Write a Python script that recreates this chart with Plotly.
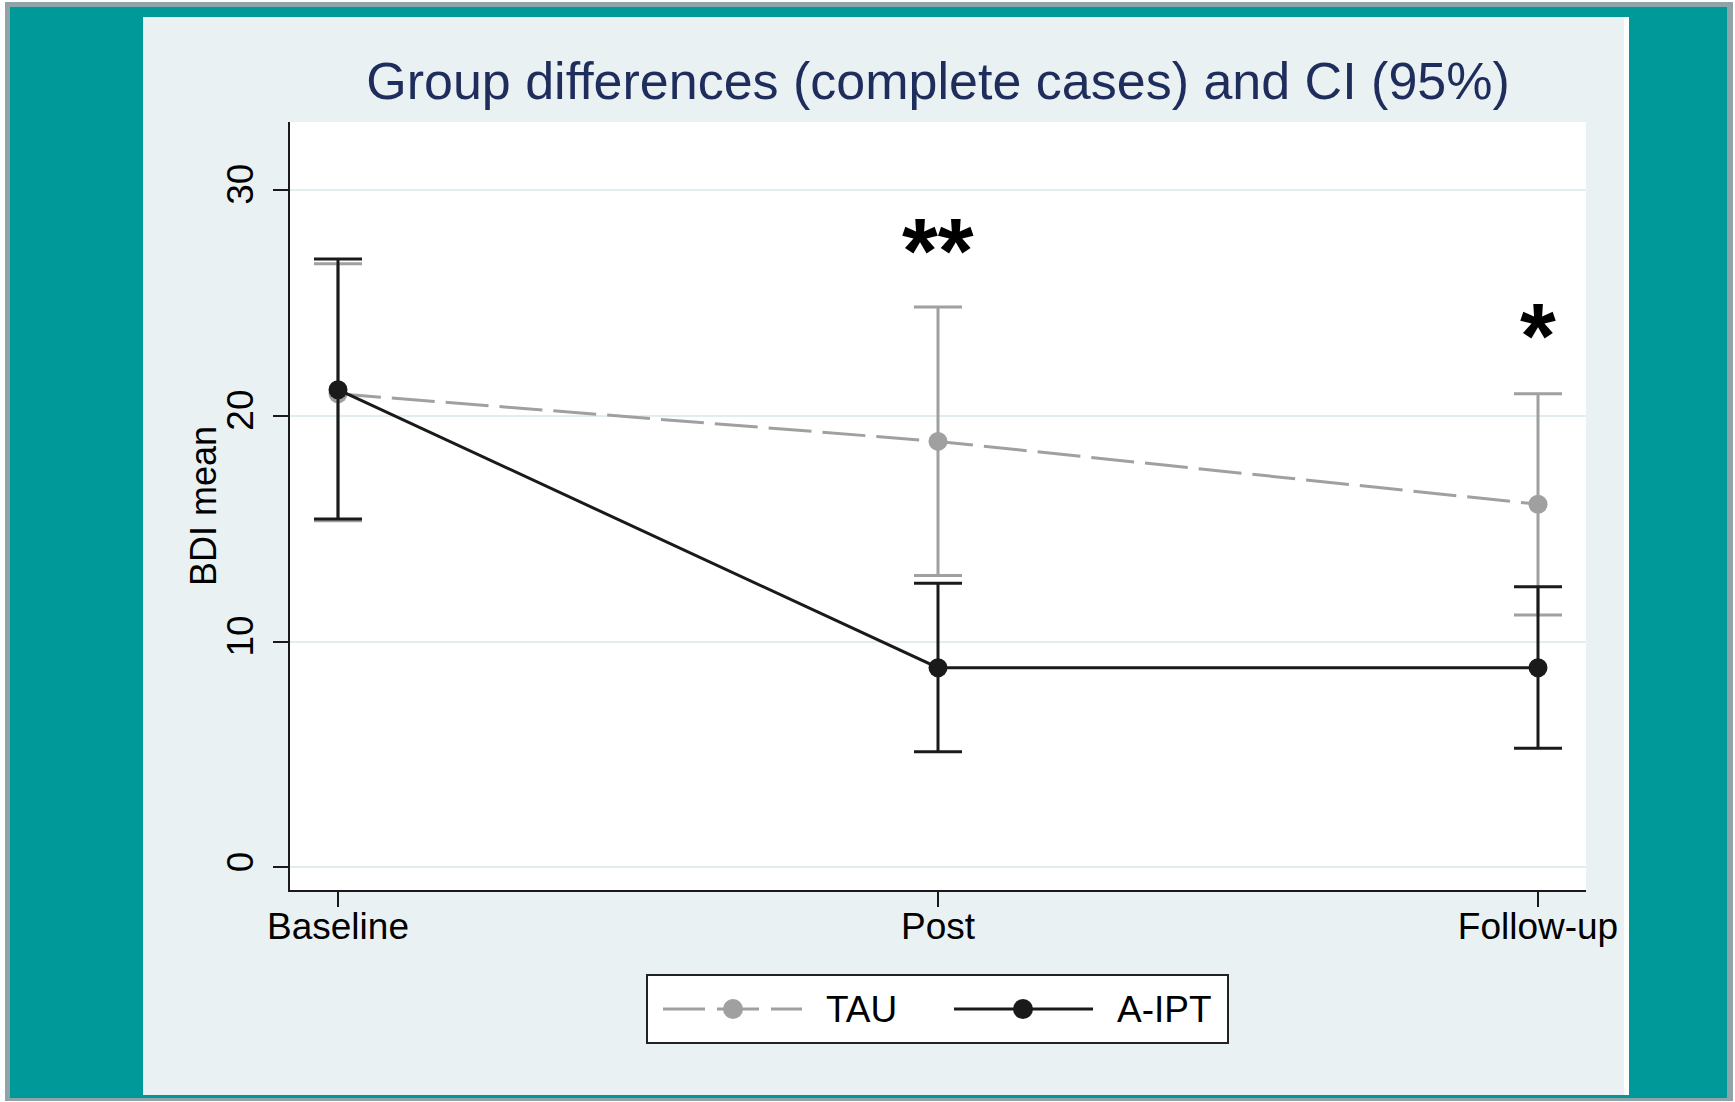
import plotly.graph_objects as go

# ---- data -------------------------------------------------------------
timepoints = ["Baseline", "Post", "Follow-up"]

tau_mean = [20.97, 18.86, 16.08]
tau_upper = [26.73, 24.81, 20.97]
tau_lower = [15.35, 12.92, 11.18]

aipt_mean = [21.15, 8.84, 8.84]
aipt_upper = [26.94, 12.58, 12.42]
aipt_lower = [15.42, 5.12, 5.27]

y_ticks = [0, 10, 20, 30]
signif_labels = ["", "**", "*"]
signif_y = [None, 28.0, 24.25]

# ---- page geometry (pixels) -------------------------------------------
W, H = 1735, 1102
L, R, T, B = 290, 1586, 122, 890

TEAL = "#009999"
PANEL = "#eaf1f3"
GRID = "#e3ecee"
GRAY = "#a0a0a0"
BLACK = "#1a1a1a"
NAVY = "#1e2d5c"
FONT = "Liberation Sans, Arial, sans-serif"


def px(x):
    return (x - L) / (R - L)


def py(y):
    return (B - y) / (B - T)


def rect(x0, y0, x1, y1, fill, layer="below", line=None):
    d = dict(type="rect", xref="paper", yref="paper",
             x0=px(x0), x1=px(x1), y0=py(y1), y1=py(y0),
             fillcolor=fill, layer=layer,
             line=line if line else dict(width=0))
    return d


def err(mean, hi, lo):
    return dict(type="data", symmetric=False,
                array=[h - m for h, m in zip(hi, mean)],
                arrayminus=[m - l for m, l in zip(mean, lo)])


fig = go.Figure()

fig.add_trace(go.Scatter(
    x=timepoints, y=tau_mean, name="TAU", mode="lines+markers",
    line=dict(color=GRAY, width=3, dash="43px,11px"),
    marker=dict(color=GRAY, size=19, line=dict(width=0)),
    error_y=dict(**err(tau_mean, tau_upper, tau_lower),
                 color=GRAY, thickness=3, width=24),
    showlegend=False,
))

fig.add_trace(go.Scatter(
    x=timepoints, y=aipt_mean, name="A-IPT", mode="lines+markers",
    line=dict(color=BLACK, width=3),
    marker=dict(color=BLACK, size=19, line=dict(width=0)),
    error_y=dict(**err(aipt_mean, aipt_upper, aipt_lower),
                 color=BLACK, thickness=3, width=24),
    showlegend=False,
))

# significance markers above the TAU intervals
annotations = []
for cat, lab, yv in zip(timepoints, signif_labels, signif_y):
    if lab:
        annotations.append(dict(
            x=cat, y=yv, xref="x", yref="y", text=lab, showarrow=False,
            xanchor="center", yanchor="middle", yshift=-16,
            font=dict(family=FONT, size=92, color="#000000",
                      weight="bold")))

# y-axis title
annotations.append(dict(
    x=px(203), y=0.5, xref="paper", yref="paper", text="BDI mean",
    showarrow=False, textangle=-90, xanchor="center", yanchor="middle",
    font=dict(family=FONT, size=36, color="#000000")))

# ---- frame and panel backgrounds --------------------------------------
shapes = [
    rect(0, 0, W, H, "#ffffff"),
    rect(5, 2, 1733, 1101, "#8fa4a6"),
    rect(10, 7, 1727, 1098, TEAL),
    rect(143, 17, 1629, 1095, "#ffffff"),
    rect(143, 17, 1624, 1095, PANEL),
    rect(L, T, R, B, "#ffffff"),
]

# ---- legend box -------------------------------------------------------
LEG_Y = 1009
shapes.append(rect(647, 975, 1228, 1043, "#ffffff", layer="above",
                   line=dict(color="#222222", width=2)))
shapes.append(dict(type="line", xref="paper", yref="paper", layer="above",
                   x0=px(663), x1=px(802), y0=py(LEG_Y), y1=py(LEG_Y),
                   line=dict(color=GRAY, width=3, dash="42px,12px")))
shapes.append(dict(type="line", xref="paper", yref="paper", layer="above",
                   x0=px(954), x1=px(1093), y0=py(LEG_Y), y1=py(LEG_Y),
                   line=dict(color=BLACK, width=3)))
for cx, col in [(733, GRAY), (1023, BLACK)]:
    r = 10
    shapes.append(dict(type="circle", xref="paper", yref="paper",
                       layer="above",
                       x0=px(cx - r), x1=px(cx + r),
                       y0=py(LEG_Y + r), y1=py(LEG_Y - r),
                       fillcolor=col, line=dict(width=0)))
for tx, lab in [(824, "TAU"), (1115, "A-IPT")]:
    annotations.append(dict(
        x=px(tx), y=py(LEG_Y), xref="paper", yref="paper", text=lab,
        showarrow=False, xanchor="left", yanchor="middle",
        font=dict(family=FONT, size=37, color="#000000")))

fig.update_layout(
    width=W, height=H,
    margin=dict(l=L, r=W - R, t=T, b=H - B, pad=0),
    paper_bgcolor="#ffffff",
    plot_bgcolor="rgba(0,0,0,0)",
    font=dict(family=FONT, size=37, color="#000000"),
    title=dict(text="Group differences (complete cases) and CI (95%)",
               x=0.5, xref="paper", xanchor="center",
               y=1 - 81 / H, yref="container", yanchor="middle",
               font=dict(family=FONT, size=52, color=NAVY)),
    shapes=shapes,
    annotations=annotations,
    showlegend=False,
)

fig.update_xaxes(
    type="category", range=[-0.08, 2.08],
    showline=True, linecolor=BLACK, linewidth=2,
    ticks="outside", ticklen=15, tickwidth=2, tickcolor=BLACK,
    showgrid=False, zeroline=False, ticklabelstandoff=-12,
    tickfont=dict(family=FONT, size=37, color="#000000"),
)

fig.update_yaxes(
    range=[-1.0, 33.0], tickvals=y_ticks,
    showline=True, linecolor=BLACK, linewidth=2,
    ticks="outside", ticklen=15, tickwidth=2, tickcolor=BLACK,
    showgrid=True, gridcolor=GRID, gridwidth=2, zeroline=False,
    tickangle=-90, ticklabelstandoff=5,
    tickfont=dict(family=FONT, size=37, color="#000000"),
)

fig.write_html("out.html")
